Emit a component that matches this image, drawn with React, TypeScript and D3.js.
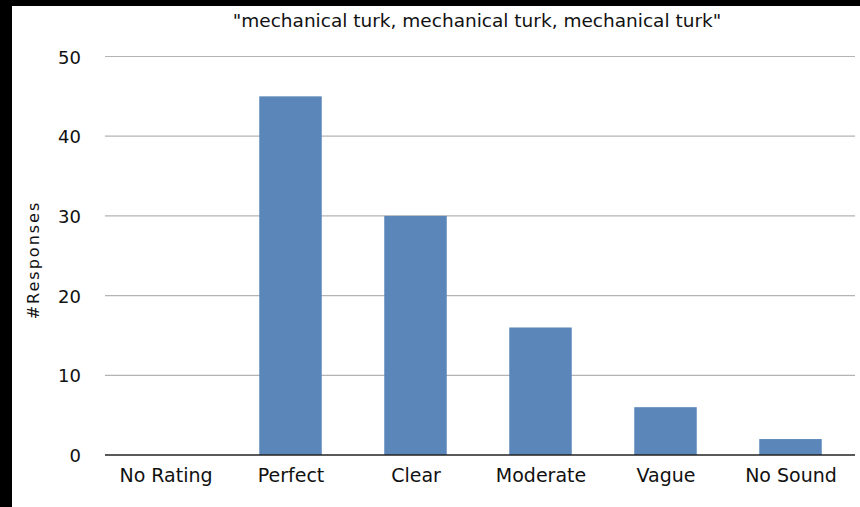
import React from "react";
import * as d3 from "d3";

const categories = ["No Rating", "Perfect", "Clear", "Moderate", "Vague", "No Sound"];
const responses = [0, 45, 30, 16, 6, 2];
const yTicks = [0, 10, 20, 30, 40, 50];
const title = '"mechanical turk, mechanical turk, mechanical turk"';
const yLabel = "#Responses";

const W = 860;
const H = 507;
const left = 105;
const right = 855;
const top = 56.5;
const bottom = 455;
const FONT = "'DejaVu Sans', sans-serif";

export default function App() {
  const x = d3.scaleBand<string>().domain(categories).range([left - 2, right - 2]).paddingInner(0.5).paddingOuter(0.25);
  const y = d3.scaleLinear().domain([0, 50]).range([bottom, top]);
  return (
    <svg width={W} height={H} style={{ position: "absolute", left: 0, top: 0 }}>
      <rect x={0} y={0} width={W} height={H} fill="#000" />
      <rect x={12} y={6} width={W - 12} height={H - 6} fill="#fff" />
      <text x={477} y={26.5} textAnchor="middle" fontFamily={FONT} fontSize={18.5} fill="#111">{title}</text>
      {yTicks.map((t) => (
        <g key={t}>
          {t > 0 && <line x1={left} x2={right} y1={y(t)} y2={y(t)} stroke="#b4b4b4" strokeWidth={1.2} />}
          <text x={81} y={y(t) + 7} textAnchor="end" fontFamily={FONT} fontSize={18} fill="#111">{t}</text>
        </g>
      ))}
      {categories.map((c, i) => (
        <g key={c}>
          {responses[i] > 0 && (
            <rect x={x(c)!} y={y(responses[i])} width={x.bandwidth()} height={bottom - y(responses[i])} fill="#5b86b9" />
          )}
          <text x={x(c)! + x.bandwidth() / 2 + 0.5} y={482} textAnchor="middle" fontFamily={FONT} fontSize={19} fill="#111">{c}</text>
        </g>
      ))}
      <line x1={left} x2={right} y1={bottom} y2={bottom} stroke="#222" strokeWidth={1.5} />
      <text transform={`translate(39,260) rotate(-90)`} textAnchor="middle" fontFamily={FONT} fontSize={16} letterSpacing={2} fill="#111">{yLabel}</text>
    </svg>
  );
}
